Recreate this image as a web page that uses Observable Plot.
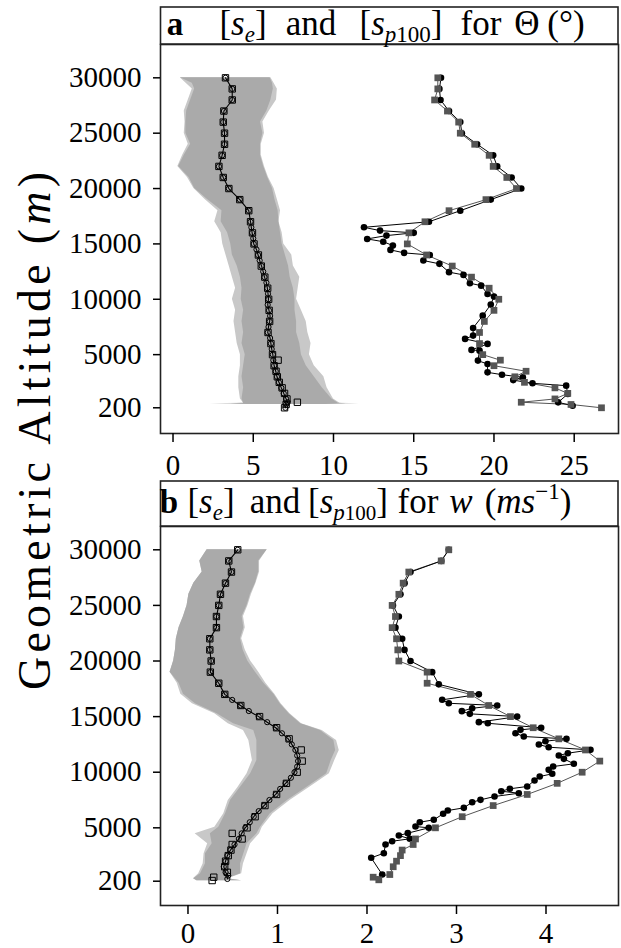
<!DOCTYPE html>
<html><head><meta charset="utf-8">
<script src="https://cdn.jsdelivr.net/npm/d3@7"></script>
<script src="https://cdn.jsdelivr.net/npm/@observablehq/plot@0.6"></script>
<style>
body{margin:0;background:#fff;}
#fig{position:relative;width:621px;height:948px;overflow:hidden;font-family:"Liberation Serif",serif;}
#fig > *{position:absolute;left:0;}
</style></head><body><div id="fig"></div>
<script>
// ---------- tick values ----------
const yTicks = [30000, 25000, 20000, 15000, 10000, 5000, 200];
const aXTicks = [0, 5, 10, 15, 20, 25];
const bXTicks = [0, 1, 2, 3, 4];

// ---------- panel a : Theta ----------
// [altitude, low, high]
const aBandDark = [[30000,0.45,6.05],[29500,1.2,6.2],[29000,1.35,6.25],[28000,1.1,6.1],[27000,0.85,5.85],[26000,0.8,5.45],[25000,0.8,5.6],[24000,1.1,5.45],[23000,0.7,5.45],[22000,0.35,5.65],[21000,1.0,5.9],[20000,1.35,6.2],[19000,2.15,6.35],[18000,3.05,6.55],[17000,3.0,6.6],[16000,3.4,6.7],[15000,3.6,6.8],[14000,3.7,7.0],[13000,4.0,7.2],[12000,4.2,7.3],[11000,4.3,7.5],[10000,4.25,7.6],[9000,4.4,7.6],[8000,4.3,7.7],[7000,4.4,7.7],[6000,4.3,7.9],[5000,4.5,8.0],[4000,4.4,8.3],[3000,4.3,8.8],[2000,4.4,9.3],[1000,4.3,9.9],[620,4.4,10.3],[560,3.6,10.8],[500,4.6,9.5]];
const aBandLight = [[30000,0.45,6.1],[29000,1.2,6.5],[28000,0.95,6.45],[27000,0.7,6.0],[26000,0.75,5.6],[25000,0.7,5.7],[24000,0.95,5.5],[23000,0.6,5.5],[22000,0.3,5.7],[21000,0.9,5.95],[20000,1.3,6.3],[19000,2.0,6.5],[18000,2.8,6.7],[17000,2.6,6.6],[16000,3.0,6.8],[15000,3.1,6.9],[14000,3.3,7.4],[13000,3.5,7.5],[12000,3.7,7.9],[11000,3.9,7.8],[10000,3.7,7.7],[9000,3.9,8.0],[8000,3.8,8.3],[7000,3.9,8.4],[6000,4.0,8.6],[5000,4.2,8.5],[4000,4.2,8.8],[3000,4.1,9.4],[2000,4.1,9.6],[1000,4.2,10.0],[620,4.4,10.4],[560,2.3,11.6],[500,4.5,9.5]];
// [altitude, value]
const aSeCirc = [[30000,3.27],[29000,3.69],[28000,3.69],[27000,3.17],[26000,3.13],[25000,3.21],[24000,3.21],[23000,3.06],[22000,2.86],[21000,3.13],[20000,3.48],[19000,4.16],[18000,4.72],[17000,4.83],[16500,4.88],[16000,4.93],[15500,5.0],[15000,5.03],[14500,5.2],[14000,5.3],[13500,5.4],[13000,5.52],[12500,5.62],[12000,5.7],[11500,5.82],[11000,5.88],[10500,5.92],[10000,5.95],[9500,5.9],[9000,5.98],[8500,6.05],[8000,6.02],[7500,5.95],[7000,5.9],[6500,6.05],[6000,6.1],[5500,6.15],[5000,6.22],[4500,6.25],[4000,6.3],[3500,6.4],[3000,6.48],[2500,6.6],[2000,6.75],[1500,6.9],[1000,7.05],[700,7.15],[500,7.05],[200,7.0]];
const aSeSq = [[30000,3.27],[29000,3.69],[28000,3.69],[27000,3.17],[26000,3.13],[25000,3.21],[24000,3.21],[23000,3.06],[22000,2.86],[21000,3.13],[20000,3.48],[19000,4.16],[18000,4.72],[17000,4.83],[16000,4.95],[15000,5.05],[14000,5.32],[13000,5.5],[12000,5.72],[11000,5.9],[10000,5.96],[9000,5.99],[8000,6.02],[7000,5.92],[6000,6.1],[5000,6.2],[4500,6.55],[4000,6.3],[3500,6.42],[3000,6.5],[2500,6.62],[2000,6.8],[1500,6.95],[1000,7.1],[700,7.75],[500,7.05],[200,6.95]];
const aSpCirc = [[30000,16.7],[29000,16.6],[28000,16.67],[27000,17.2],[26000,17.9],[25000,18.0],[24000,18.95],[23000,19.95],[22000,20.2],[21000,21.1],[20000,21.7],[19000,19.8],[18000,17.9],[17000,15.95],[16500,11.9],[16200,12.9],[16000,15.0],[15750,13.3],[15450,12.1],[15200,13.1],[14850,13.7],[14460,13.55],[14190,14.4],[14000,16.0],[13500,15.6],[13200,16.6],[12450,17.2],[12200,18.1],[11450,18.5],[11230,19.2],[10480,19.6],[10240,20.0],[9520,19.8],[8520,19.3],[7410,18.7],[6720,18.7],[6420,18.2],[5970,19.6],[5430,18.6],[5360,19.1],[4460,19.0],[4150,19.6],[3400,19.6],[3190,20.5],[2950,21.8],[2700,21.2],[2410,22.4],[2200,24.5],[1450,24.6],[690,24.0],[390,24.9]];
const aSpSq = [[30000,16.5],[29000,16.5],[28000,16.3],[27000,17.1],[26000,17.8],[25000,17.9],[24000,18.8],[23000,19.7],[22000,19.95],[21000,20.8],[20000,21.4],[19000,19.5],[18000,17.2],[17000,15.7],[16000,14.7],[15000,14.6],[14000,15.8],[13000,17.4],[12000,18.6],[11000,19.7],[10000,20.3],[9000,20.0],[8000,19.4],[7000,19.1],[6000,19.1],[5000,19.3],[4500,20.4],[4000,20.0],[3500,22.0],[3000,21.3],[2500,21.9],[2000,23.8],[1500,24.6],[1000,23.8],[700,21.7],[500,24.8],[200,26.7]];

// ---------- panel b : w ----------
const bBandDark = [[30000,0.214,0.885],[29000,0.132,0.79],[28000,0.159,0.79],[27000,0.065,0.754],[26000,0.01,0.698],[25000,-0.01,0.66],[24000,-0.05,0.605],[23000,-0.1,0.624],[22000,-0.13,0.587],[21000,-0.14,0.616],[20000,-0.16,0.668],[19000,-0.2,0.754],[18000,-0.1,0.847],[17000,-0.05,0.96],[16150,0.084,1.03],[15250,0.326,1.13],[14350,0.51,1.26],[13750,0.735,1.48],[12850,0.77,1.63],[11950,0.77,1.65],[11050,0.77,1.6],[9856,0.7,1.55],[8651,0.587,1.33],[7455,0.475,1.11],[6259,0.42,0.92],[5054,0.344,0.81],[4460,0.25,0.77],[3561,0.27,0.66],[2662,0.196,0.624],[1763,0.196,0.587],[863,0.14,0.587],[414,0.065,0.438],[250,0.1,0.6]];
const bBandLight = [[30000,0.214,0.885],[29000,0.132,0.8],[28000,0.159,0.8],[27000,0.065,0.76],[26000,0.01,0.71],[25000,-0.01,0.67],[24000,-0.05,0.62],[23000,-0.1,0.64],[22000,-0.13,0.6],[21000,-0.14,0.64],[20000,-0.16,0.7],[19000,-0.2,0.79],[18000,-0.12,0.87],[17000,-0.08,0.97],[16150,0.05,1.04],[15250,0.3,1.14],[14350,0.45,1.27],[13750,0.62,1.5],[12850,0.68,1.66],[11950,0.7,1.69],[11050,0.72,1.64],[9856,0.66,1.58],[8651,0.56,1.36],[7455,0.45,1.14],[6259,0.4,0.95],[5054,0.3,0.83],[4460,0.08,0.8],[3561,0.22,0.7],[2662,0.18,0.66],[1763,0.17,0.62],[863,0.12,0.6],[414,0.06,0.45],[250,0.1,0.6]];
const bSeCirc = [[30000,0.556],[29000,0.456],[28000,0.486],[27000,0.419],[26000,0.363],[25000,0.344],[24000,0.318],[23000,0.318],[22000,0.244],[21000,0.244],[20000,0.259],[19000,0.25],[18000,0.344],[17000,0.411],[16500,0.494],[16000,0.587],[15500,0.68],[15000,0.79],[14500,0.885],[14000,0.98],[13500,1.05],[13000,1.12],[12500,1.16],[12000,1.2],[11500,1.22],[11000,1.23],[10500,1.22],[10000,1.19],[9500,1.15],[9000,1.09],[8500,1.03],[8000,0.98],[7500,0.91],[7000,0.85],[6500,0.79],[6000,0.735],[5500,0.69],[5000,0.64],[4500,0.6],[4000,0.568],[3500,0.52],[3000,0.475],[2500,0.44],[2000,0.42],[1500,0.4],[1000,0.42],[700,0.45],[400,0.44]];
const bSeSq = [[30000,0.556],[29000,0.456],[28000,0.486],[27000,0.419],[26000,0.363],[25000,0.344],[24000,0.318],[23000,0.318],[22000,0.244],[21000,0.244],[20000,0.259],[19000,0.25],[18000,0.344],[17000,0.411],[16000,0.59],[15000,0.8],[14000,0.99],[13000,1.13],[12000,1.265],[11000,1.276],[10000,1.22],[9000,1.1],[8000,0.99],[7000,0.86],[6000,0.75],[5000,0.66],[4500,0.494],[4000,0.605],[3500,0.494],[3000,0.48],[2500,0.45],[2000,0.42],[1500,0.41],[1000,0.44],[560,0.288],[260,0.27]];
const bSpCirc = [[30000,2.914],[29000,2.83],[28000,2.486],[27000,2.42],[26000,2.374],[25000,2.29],[24000,2.356],[23000,2.318],[22000,2.393],[21000,2.419],[20000,2.486],[19000,2.728],[17900,2.802],[17000,3.25],[16510,2.84],[16200,2.914],[16000,3.455],[15750,3.175],[15490,3.06],[15250,3.149],[15000,3.678],[14500,3.25],[14400,3.35],[14000,3.946],[13810,3.715],[13510,3.659],[13210,3.752],[13000,4.229],[12790,3.994],[12490,3.92],[12250,4.03],[12010,4.497],[11710,4.244],[11500,4.143],[11200,4.2],[10755,4.311],[10514,4.08],[10215,4.03],[9856,4.07],[9616,3.93],[9256,3.872],[8717,3.79],[8508,3.596],[8292,3.5],[8112,3.696],[7815,3.425],[7517,3.268],[7302,3.175],[6797,3.082],[6556,2.903],[6259,2.851],[5719,2.746],[5503,2.59],[5117,2.542],[5000,2.69],[4520,2.456],[4307,2.356],[4011,2.478],[3795,2.281],[3498,2.207],[2716,2.188],[2302,2.047],[800,2.17]];
const bSpSq = [[30000,2.914],[29000,2.829],[28000,2.467],[27000,2.404],[26000,2.356],[25000,2.281],[24000,2.318],[23000,2.281],[22000,2.33],[21000,2.344],[20000,2.356],[19000,2.672],[18000,2.672],[17000,3.156],[16000,3.36],[15000,3.603],[14000,3.857],[13000,4.143],[12000,4.441],[11000,4.601],[10000,4.404],[9000,4.125],[8000,3.79],[7000,3.41],[6000,3.064],[5000,2.765],[4000,2.542],[3500,2.516],[3000,2.393],[2500,2.374],[2000,2.33],[1500,2.293],[800,2.255],[560,2.069],[325,2.132]];

const FONT = '"Liberation Serif", "Times New Roman", serif';
const alt = d => d[0], val = d => d[1];

function panel(o) {
  return Plot.plot({
    width: 621, height: o.height,
    marginLeft: 160, marginRight: 3, marginTop: o.marginTop, marginBottom: o.marginBottom,
    x: {domain: o.xDomain},
    y: {domain: o.yDomain},
    style: {fontFamily: FONT, fontSize: "29px", color: "#000", background: "transparent", overflow: "visible"},
    marks: [
      Plot.areaX(o.bandLight, {y: alt, x1: d => d[1], x2: d => d[2], fill: "#c8c8c8"}),
      Plot.areaX(o.bandDark, {y: alt, x1: d => d[1], x2: d => d[2], fill: "#aaaaaa"}),
      Plot.line(o.seCirc, {x: val, y: alt, stroke: "#000", strokeWidth: 1.1}),
      Plot.dot(o.seCirc, {x: val, y: alt, r: 2.6, stroke: "#000", fill: "none", strokeWidth: 1}),
      Plot.dot(o.seSq, {x: val, y: alt, symbol: "square", r: 3.6, stroke: "#000", fill: "none", strokeWidth: 1}),
      Plot.line(o.spSq, {x: val, y: alt, stroke: "#555", strokeWidth: 1}),
      Plot.line(o.spCirc, {x: val, y: alt, stroke: "#000", strokeWidth: 1}),
      Plot.dot(o.spCirc, {x: val, y: alt, r: 3.3, fill: "#000"}),
      Plot.dot(o.spSq, {x: val, y: alt, symbol: "square", r: 3.8, fill: "#555"}),
      Plot.frame({stroke: "#222", strokeWidth: 1.6}),
      Plot.axisY(yTicks, {tickSize: 7, tickPadding: 12, strokeWidth: 1.5, tickFormat: d => String(d), label: null}),
      Plot.axisX(o.xTicks, {tickSize: 9, tickPadding: o.xPad, strokeWidth: 1.5, tickFormat: d => String(d), label: null})
    ]
  });
}

const fig = document.getElementById("fig");

const pa = panel({height: 480, marginTop: 44, marginBottom: 47, xDomain: [-0.78, 27.76], yDomain: [-2122, 33009],
  xTicks: aXTicks, xPad: 12, bandDark: aBandDark, bandLight: aBandLight, seCirc: aSeCirc, seSq: aSeSq, spCirc: aSpCirc, spSq: aSpSq});
pa.style.top = "0px";
fig.appendChild(pa);

const pb = panel({height: 468, marginTop: 46, marginBottom: 43, xDomain: [-0.307, 4.81], yDomain: [-1985, 32095],
  xTicks: bXTicks, xPad: 8, bandDark: bBandDark, bandLight: bBandLight, seCirc: bSeCirc, seSq: bSeSq, spCirc: bSpCirc, spSq: bSpSq});
pb.style.top = "480px";
fig.appendChild(pb);

// titles & shared y label
const sub = (t, it) => `<tspan ${it ? 'font-style="italic"' : ''} font-size="23" dy="7">${t}</tspan>`;
const ns = "http://www.w3.org/2000/svg";
const ov = document.createElementNS(ns, "svg");
ov.setAttribute("width", 621); ov.setAttribute("height", 948);
ov.style.top = "0px"; ov.style.pointerEvents = "none";
ov.innerHTML = `
<g font-family='${FONT}' fill="#000" font-size="35" text-anchor="middle">
  <rect x="160.5" y="7" width="457.5" height="37" fill="#fff" stroke="#222" stroke-width="1.6"/>
  <text x="175" y="35" font-size="33" font-weight="bold">a</text>
  <text x="243" y="35">[<tspan font-style="italic">s</tspan>${sub("e", true)}<tspan dy="-7">]</tspan></text>
  <text x="311" y="35">and</text>
  <text x="401" y="35">[<tspan font-style="italic">s</tspan>${sub("p", true)}<tspan font-size="23">100</tspan><tspan dy="-7">]</tspan></text>
  <text x="481" y="35">for</text>
  <text x="527" y="35">Θ</text>
  <text x="566" y="35">(°)</text>

  <rect x="160.5" y="481" width="457.5" height="45" fill="#fff" stroke="#222" stroke-width="1.6"/>
  <text x="169" y="513" font-size="33" font-weight="bold">b</text>
  <text x="211" y="513">[<tspan font-style="italic">s</tspan>${sub("e", true)}<tspan dy="-7">]</tspan></text>
  <text x="275" y="513">and</text>
  <text x="348" y="513">[<tspan font-style="italic">s</tspan>${sub("p", true)}<tspan font-size="21">100</tspan><tspan dy="-7">]</tspan></text>
  <text x="418" y="513">for</text>
  <text x="461" y="513" font-style="italic">w</text>
  <text x="528" y="513">(<tspan font-style="italic">ms</tspan><tspan font-size="23" dy="-14">−1</tspan><tspan dy="14">)</tspan></text>

  <text transform="translate(50,431) rotate(-90)" font-size="46" textLength="518" lengthAdjust="spacing">Geometric Altitude (<tspan font-style="italic">m</tspan>)</text>
</g>`;
fig.appendChild(ov);
</script></body></html>
